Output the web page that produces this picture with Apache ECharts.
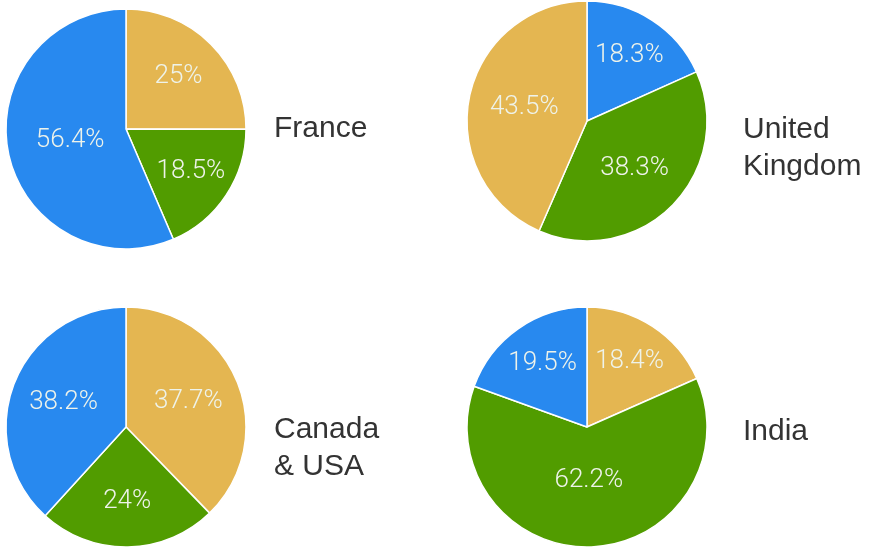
<!DOCTYPE html>
<html>
<head>
<meta charset="utf-8">
<script src="https://cdn.jsdelivr.net/npm/echarts@6/dist/echarts.min.js"></script>
<style>
  html, body { margin: 0; padding: 0; background: #fff; }
  #main { width: 871px; height: 547px; }
</style>
</head>
<body>
<div id="main"></div>
<script>
// 每个饼的数据（顺时针，从12点开始）
const countries = ["France", "United\nKingdom", "Canada\n& USA", "India"];
const franceKeys = ["yellow", "green", "blue"];
const franceValues = [25, 18.5, 56.4];
const ukKeys = ["blue", "green", "yellow"];
const ukValues = [18.3, 38.3, 43.5];
const canadaKeys = ["yellow", "green", "blue"];
const canadaValues = [37.7, 24, 38.2];
const indiaKeys = ["yellow", "green", "blue"];
const indiaValues = [18.4, 62.2, 19.5];

const COLORS = { yellow: "#E4B651", green: "#519C00", blue: "#2889EF" };
const FONT = "'Liberation Sans', Helvetica, Arial, sans-serif";

const pies = [
  { keys: franceKeys, values: franceValues, center: [126, 129], title: [274, 110] },
  { keys: ukKeys, values: ukValues, center: [587, 121], title: [743, 111] },
  { keys: canadaKeys, values: canadaValues, center: [126, 427], title: [274, 411] },
  { keys: indiaKeys, values: indiaValues, center: [587, 427], title: [743, 413] },
];

// 标签放在扇区中线上，大扇区的标签更靠近圆心
function labelPos(p, idx) {
  const total = p.values.reduce((a, b) => a + b, 0);
  let before = 0;
  for (let k = 0; k < idx; k++) before += p.values[k];
  const pct = (p.values[idx] / total) * 100;
  const mid = ((before + p.values[idx] / 2) / total) * Math.PI * 2;
  const d = 88 - 0.55 * pct;
  return [p.center[0] + d * Math.sin(mid), p.center[1] - d * Math.cos(mid)];
}

const series = [];
const titles = [];
pies.forEach((p, i) => {
  const data = p.values.map((v, j) => ({
    name: p.keys[j],
    value: v,
    itemStyle: { color: COLORS[p.keys[j]] },
  }));
  series.push({
    type: "pie",
    center: p.center,
    radius: 120,
    startAngle: 90,
    clockwise: true,
    silent: true,
    animation: false,
    label: {
      show: true,
      position: "inside",
      formatter: "{c}%",
      color: "#eef3ea",
      fontSize: 26,
      fontWeight: 300,
      fontFamily: "Roboto, 'Liberation Sans', sans-serif",
    },
    labelLine: { show: false },
    labelLayout: function (params) {
      const xy = labelPos(p, params.dataIndex);
      return { x: xy[0], y: xy[1], align: "center", verticalAlign: "middle" };
    },
    itemStyle: { borderColor: "#fff", borderWidth: 1.5 },
    data: data,
  });
  titles.push({
    text: countries[i],
    left: p.title[0],
    top: p.title[1],
    padding: 0,
    textStyle: {
      fontSize: 30,
      fontWeight: "normal",
      color: "#333",
      fontFamily: FONT,
      lineHeight: 37,
    },
  });
});

const chart = echarts.init(document.getElementById("main"));
chart.setOption({
  backgroundColor: "#fff",
  animation: false,
  title: titles,
  series: series,
});
</script>
</body>
</html>
